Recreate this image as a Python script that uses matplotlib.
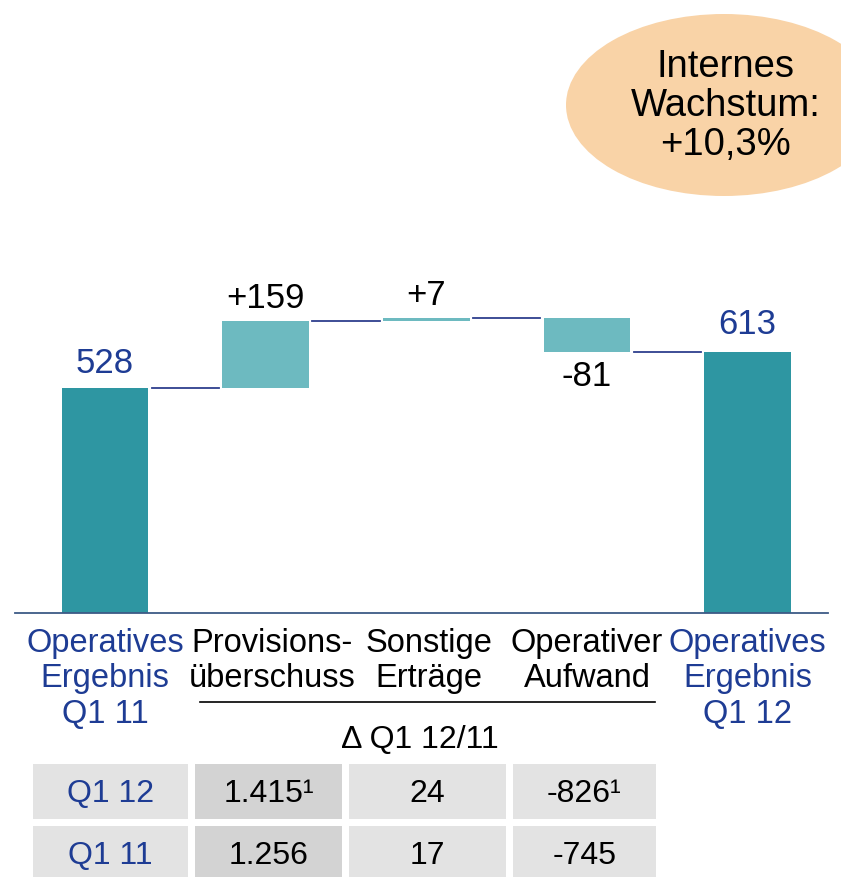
import matplotlib.pyplot as plt
from matplotlib.patches import Ellipse, Rectangle
from matplotlib.transforms import offset_copy

plt.rcParams['font.family'] = ['Liberation Sans', 'DejaVu Sans']

# Waterfall data (Mio. EUR)
categories = ["Operatives\nErgebnis\nQ1 11", "Provisions-\nüberschuss", "Sonstige\nErträge",
              "Operativer\nAufwand", "Operatives\nErgebnis\nQ1 12"]
start_total = 528
deltas = [159, 7, -81]
end_total = 613
delta_labels = ["+159", "+7", "-81"]

# Table below the chart
table_rows = ["Q1 12", "Q1 11"]
provisions = ["1.415¹", "1.256"]
sonstige = ["24", "17"]
aufwand = ["-826¹", "-745"]

bubble_text = "Internes\nWachstum:\n+10,3%"

TOTAL = "#2E96A2"
DELTA = "#6DBAC0"
NAVY = "#1E3C94"
LINE = "#2E3F8E"

W, H = 841, 878
fig = plt.figure(figsize=(W / 100, H / 100), dpi=100)

# pixel-space overlay for the bubble, bracket line and table
bg = fig.add_axes([0, 0, 1, 1])
bg.set_xlim(0, W)
bg.set_ylim(H, 0)
bg.axis('off')

bg.add_patch(Ellipse((724, 106), 316, 182, facecolor="#F9D3A7", edgecolor="none"))
bg.text(726, 106, bubble_text, ha='center', va='center', fontsize=27.5,
        linespacing=1.1, color='black')

bg.plot([200, 655], [703, 703], color='black', lw=1.2)
bg.text(420, 740, "Δ Q1 12/11", ha='center', va='center', fontsize=23)

cols = [(33, 188), (195, 342), (349, 506), (513, 656)]
fills = ["#E3E3E3", "#D3D3D3", "#E3E3E3", "#E3E3E3"]
row_tops = [765, 827]
row_h = 55
for r, top in enumerate(row_tops):
    cells = [table_rows[r], provisions[r], sonstige[r], aufwand[r]]
    for c, (x0, x1) in enumerate(cols):
        bg.add_patch(Rectangle((x0, top), x1 - x0, row_h, facecolor=fills[c], edgecolor='none'))
        bg.text((x0 + x1) / 2, top + row_h / 2 + 2, cells[c], ha='center', va='center',
                fontsize=23, color=NAVY if c == 0 else 'black')

# waterfall axes
base_y, top_y = 614, 240
ax = fig.add_axes([15 / W, (H - base_y) / H, 813 / W, (base_y - top_y) / H])
ax.patch.set_alpha(0)
ax.set_xlim(-0.56, 4.5)
ax.set_ylim(0, (base_y - top_y) / 0.4255)

width = 0.54
xs = list(range(5))
running = [start_total]
for d in deltas:
    running.append(running[-1] + d)

ax.bar(0, start_total, width, color=TOTAL)
ax.bar(4, end_total, width, color=TOTAL)
for i, d in enumerate(deltas):
    ax.bar(i + 1, d, width, bottom=running[i], color=DELTA)

# connectors between neighbouring bars
gap = 0.02
for i, lvl in enumerate(running):
    ax.plot([i + width / 2 + gap, i + 1 - width / 2 - gap], [lvl, lvl], color=LINE, lw=1.3)

ax.annotate(str(start_total), (0, start_total), xytext=(0, 12), textcoords='offset points',
            ha='center', va='baseline', fontsize=25, color=NAVY)
ax.annotate(str(end_total), (4, end_total), xytext=(0, 14), textcoords='offset points',
            ha='center', va='baseline', fontsize=25, color=NAVY)
for i, d in enumerate(deltas):
    if d >= 0:
        ax.annotate(delta_labels[i], (i + 1, running[i + 1]), xytext=(0, 10),
                    textcoords='offset points', ha='center', va='baseline', fontsize=25)
    else:
        ax.annotate(delta_labels[i], (i + 1, running[i + 1]), xytext=(0, -5),
                    textcoords='offset points', ha='center', va='top', fontsize=25)

for s in ['top', 'right', 'left']:
    ax.spines[s].set_visible(False)
ax.spines['bottom'].set_color("#3D5A86")
ax.spines['bottom'].set_linewidth(1.3)
ax.set_yticks([])
ax.set_xticks(xs)
ax.set_xticklabels(categories, fontsize=23.5, linespacing=1.18)
ax.tick_params(axis='x', length=0, pad=10)
for i, lbl in enumerate(ax.get_xticklabels()):
    lbl.set_color(NAVY if i in (0, 4) else 'black')
# the two middle labels sit a little right of their bars
for i, dx in [(1, 6), (2, 3)]:
    lbl = ax.get_xticklabels()[i]
    lbl.set_transform(offset_copy(lbl.get_transform(), fig=fig, x=dx, units='dots'))

fig.savefig('out.png', dpi=100)
